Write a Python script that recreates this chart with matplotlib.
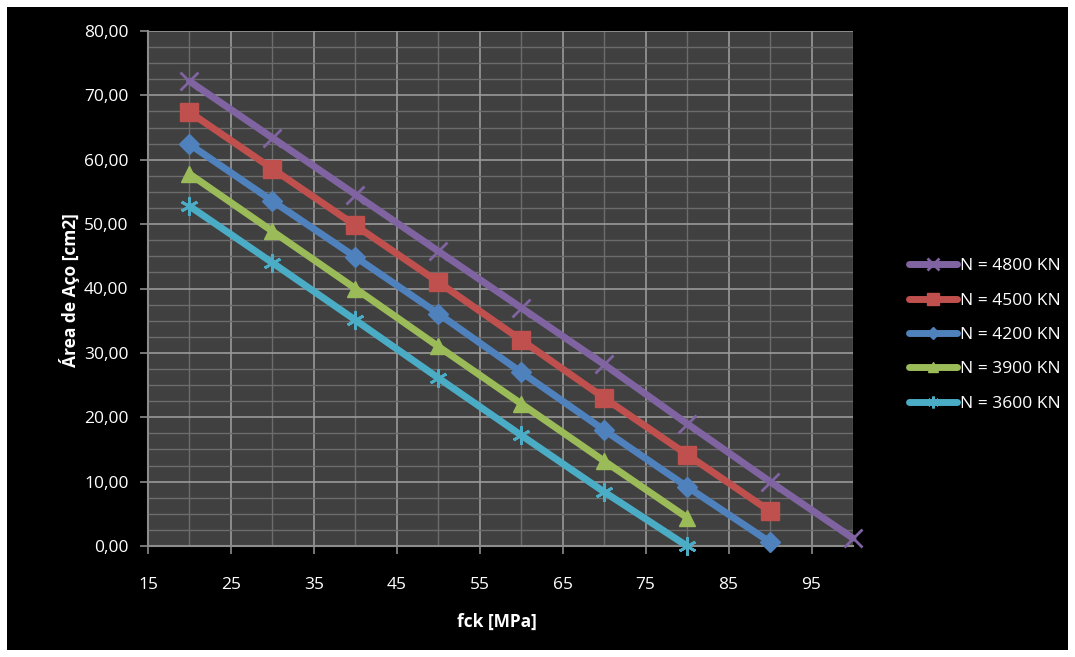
import matplotlib
matplotlib.use("Agg")
import matplotlib.pyplot as plt
from matplotlib.ticker import MultipleLocator, FixedLocator, FuncFormatter
from matplotlib.patches import Rectangle

fck = [20, 30, 40, 50, 60, 70, 80, 90, 100]
s4800 = [72.2, 63.4, 54.6, 45.8, 37.0, 28.2, 19.0, 10.0, 1.2]
s4500 = [67.4, 58.6, 49.8, 41.0, 32.0, 23.0, 14.2, 5.4]
s4200 = [62.4, 53.6, 44.9, 36.1, 27.0, 18.0, 9.2, 0.6]
s3900 = [57.8, 48.9, 40.0, 31.0, 22.1, 13.2, 4.4]
s3600 = [52.8, 44.0, 35.1, 26.1, 17.2, 8.4, 0.0]
labels = ["N = 4800 KN", "N = 4500 KN", "N = 4200 KN", "N = 3900 KN", "N = 3600 KN"]
series = [s4800, s4500, s4200, s3900, s3600]
colors = ["#8064A2", "#C0504D", "#4F81BD", "#9BBB59", "#4BACC6"]
markers = ["x", "s", "D", "^", (6, 2, 0)]
msizes = [13, 13, 10, 12, 13]
xticks = [15, 25, 35, 45, 55, 65, 75, 85, 95]

plt.rcParams['font.family'] = ['Open Sans', 'DejaVu Sans']
fig = plt.figure(figsize=(10.75, 6.57), dpi=100, facecolor="white")
fig.patches.append(Rectangle((7/1075, 7/657), (1068-7)/1075, (650-7)/657,
                             transform=fig.transFigure, facecolor="black",
                             edgecolor="none", zorder=-10))
ax = fig.add_axes([148/1075, 1-546/657, (853-148)/1075, (546-31)/657])
ax.set_facecolor("#404040")

for ys, lab, c, m, ms in zip(series, labels, colors, markers, msizes):
    xs = fck[:len(ys)]
    thin = (m == "x") or isinstance(m, tuple)
    ax.plot(xs, ys, color=c, lw=5, marker=m, ms=ms, mew=2.0 if thin else 1,
            mfc=c, mec=c, label=lab, solid_capstyle="round", zorder=3, clip_on=False)

ax.set_xlim(15, 100)
ax.set_ylim(0, 80)
ax.xaxis.set_major_locator(FixedLocator(xticks))
ax.xaxis.set_minor_locator(FixedLocator([20, 30, 40, 50, 60, 70, 80, 90, 100]))
ax.yaxis.set_major_locator(MultipleLocator(10))
ax.yaxis.set_minor_locator(MultipleLocator(2.5))
ax.yaxis.set_major_formatter(FuncFormatter(lambda v, p: f"{v:.2f}".replace(".", ",")))
ax.grid(True, which="major", color="#9a9a9a", lw=1.2, zorder=1)
ax.grid(True, which="minor", color="#6c6c6c", lw=1.0, zorder=1)
ax.set_axisbelow(True)
for sp in ["top", "right"]:
    ax.spines[sp].set_visible(False)
for sp in ["left", "bottom"]:
    ax.spines[sp].set_color("#8c8c8c")
    ax.spines[sp].set_linewidth(1.5)
ax.tick_params(which="major", direction="out", length=6, color="#8c8c8c", width=1.2,
               labelcolor="white", labelsize=12.5)
ax.tick_params(axis="x", which="major", pad=16)
ax.tick_params(axis="y", which="major", pad=8)
ax.tick_params(which="minor", length=0)

fig.text(70/1075, 1-290/657, "Área de Aço [cm2]", rotation=90, color="white",
         fontsize=12.5, fontweight="bold", ha="center", va="center")
fig.text(497/1075, 1-622/657, "fck [MPa]", color="white",
         fontsize=12.5, fontweight="bold", ha="center", va="center")

leg = fig.legend(loc="center left", bbox_to_anchor=(893/1075, 1-335/657), frameon=False,
                 labelcolor="white", fontsize=12.5, handlelength=2.8, handletextpad=0.15,
                 labelspacing=1.05, markerscale=0.65)

fig.savefig("out.png", dpi=100, facecolor="white")
